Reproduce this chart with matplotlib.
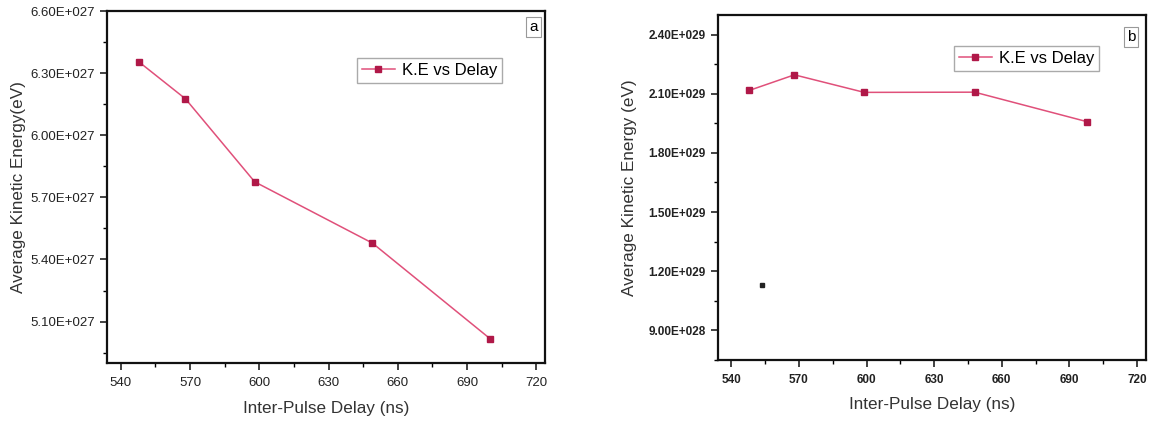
import numpy as np
import matplotlib.pyplot as plt
from matplotlib.ticker import FuncFormatter, MultipleLocator, AutoMinorLocator

plt.rcParams['font.family'] = ['Liberation Sans', 'DejaVu Sans']

# panel a
delay_a = [548, 568, 598, 649, 700]
ke_a = [6.353e27, 6.176e27, 5.775e27, 5.479e27, 5.017e27]
# panel b
delay_b = [548, 568, 599, 648, 698]
ke_b = [2.117e29, 2.196e29, 2.107e29, 2.108e29, 1.958e29]
stray_b = ([553.5], [1.128e29])

xticks = [540, 570, 600, 630, 660, 690, 720]
yticks_a = [5.1e27, 5.4e27, 5.7e27, 6.0e27, 6.3e27, 6.6e27]
yticks_b = [9.0e28, 1.2e29, 1.5e29, 1.8e29, 2.1e29, 2.4e29]

line_col = '#e0507a'
mark_col = '#b01848'


def sci3(v, pos=None):
    if v <= 0:
        return '0'
    e = int(np.floor(np.log10(v) + 1e-9))
    m = v / 10.0**e
    return f"{m:.2f}E+{e:03d}"


fig = plt.figure(figsize=(11.54, 4.25), dpi=100)
ax1 = fig.add_axes([0.0927, 0.146, 0.380, 0.828])
ax2 = fig.add_axes([0.622, 0.153, 0.371, 0.812])


def style(ax, yticks, ylim, tick_fs, tick_w):
    ax.set_xlim(534, 724)
    ax.set_ylim(*ylim)
    ax.set_xticks(xticks)
    ax.set_yticks(yticks)
    ax.xaxis.set_minor_locator(MultipleLocator(15))
    ax.yaxis.set_minor_locator(AutoMinorLocator(2))
    ax.yaxis.set_major_formatter(FuncFormatter(sci3))
    ax.tick_params(which='major', direction='out', length=5, width=1.2,
                   labelsize=tick_fs, colors='#222222')
    ax.tick_params(which='minor', direction='out', length=3, width=1.0)
    ax.tick_params(axis='x', pad=5)
    for lab in ax.get_xticklabels() + ax.get_yticklabels():
        lab.set_fontweight(tick_w)
    for s in ax.spines.values():
        s.set_linewidth(1.6)
        s.set_color('#111111')


ax1.plot(delay_a, ke_a, '-s', color=line_col, lw=1.1, ms=5,
         mfc=mark_col, mec=mark_col, label='K.E vs Delay')
style(ax1, yticks_a, (4.90e27, 6.60e27), 9.5, 'normal')
ax1.set_xlabel('Inter-Pulse Delay (ns)', fontsize=12.3, color='#333333', labelpad=9)
ax1.set_ylabel('Average Kinetic Energy(eV)', fontsize=12.3, color='#333333', labelpad=3)
ax1.legend(loc='upper right', bbox_to_anchor=(0.92, 0.89), fontsize=12,
           fancybox=False, edgecolor='#aaaaaa', numpoints=1, markerscale=0.8,
           handlelength=2.0, handletextpad=0.4, borderpad=0.3, framealpha=1)
ax1.text(0.972, 0.955, 'a', transform=ax1.transAxes, ha='center', va='center',
         fontsize=11, bbox=dict(boxstyle='square,pad=0.2', fc='white', ec='#999999', lw=0.8))

ax2.plot(delay_b, ke_b, '-s', color=line_col, lw=1.1, ms=5,
         mfc=mark_col, mec=mark_col, label='K.E vs Delay')
ax2.plot(*stray_b, 's', color='#222222', ms=2.5)
style(ax2, yticks_b, (0.75e29, 2.50e29), 8.5, 'bold')
ax2.set_xlabel('Inter-Pulse Delay (ns)', fontsize=12.3, color='#333333', labelpad=8)
ax2.set_ylabel('Average Kinetic Energy (eV)', fontsize=12.3, color='#333333', labelpad=8)
ax2.legend(loc='upper right', bbox_to_anchor=(0.91, 0.935), fontsize=12,
           fancybox=False, edgecolor='#aaaaaa', numpoints=1, markerscale=0.8,
           handlelength=2.0, handletextpad=0.4, borderpad=0.3, framealpha=1)
ax2.text(0.965, 0.935, 'b', transform=ax2.transAxes, ha='center', va='center',
         fontsize=11, bbox=dict(boxstyle='square,pad=0.2', fc='white', ec='#999999', lw=0.8))

fig.savefig('out.png', dpi=100)
